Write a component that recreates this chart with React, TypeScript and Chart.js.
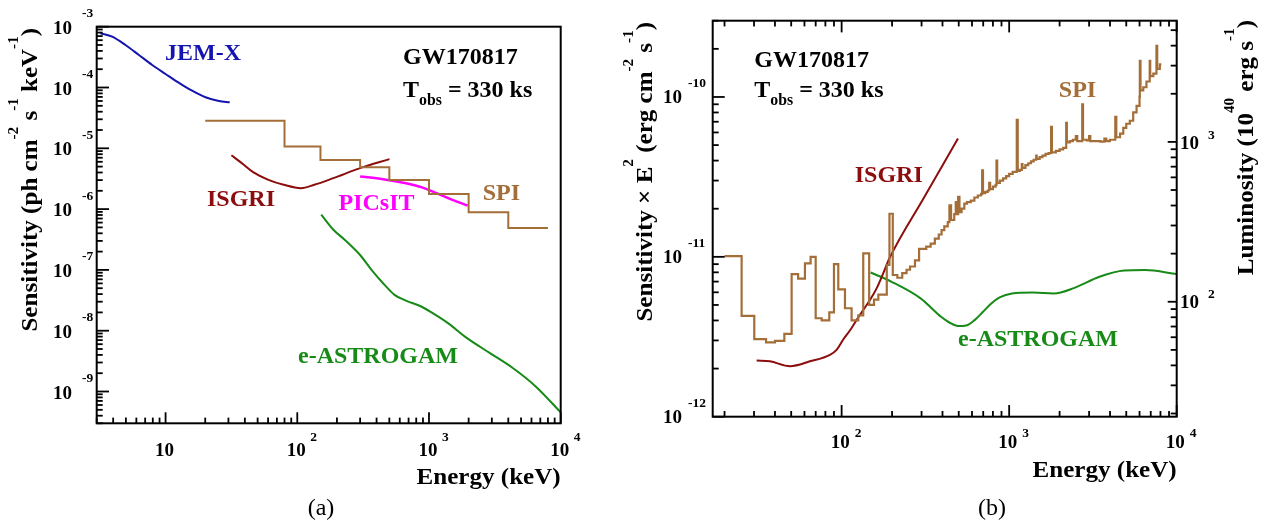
import React, { useEffect, useRef } from 'react';
import { Chart, registerables } from 'chart.js';

Chart.register(...registerables);

// ---------------- Panel (a): sensitivity (ph cm^-2 s^-1 keV^-1) ----------------
const jemxEnergy = [3.2, 3.93, 4.96, 6.27, 7.91, 10.0, 12.6, 15.9, 20.1, 25.4, 30.7];
const jemxSens = [7.8e-4, 6.85e-4, 5.0e-4, 3.43e-4, 2.35e-4, 1.67e-4, 1.2e-4, 8.85e-5, 6.9e-5, 6.0e-5, 5.7e-5];

const spiAEnergy = [20, 80, 150, 300, 500, 1000, 2000, 4000, 8000];
const spiASens = [2.85e-5, 1.07e-5, 6.45e-6, 4.9e-6, 3.0e-6, 1.78e-6, 8.9e-7, 4.9e-7, 4.9e-7];

const isgriAEnergy = [31.6, 37.9, 46.2, 60.4, 78.9, 106.6, 134.6, 188, 300, 501];
const isgriASens = [7.7e-6, 5.7e-6, 4.06e-6, 3.03e-6, 2.51e-6, 2.21e-6, 2.51e-6, 3.23e-6, 4.72e-6, 6.64e-6];

const picsitEnergy = [300, 448, 668, 873, 1140, 1489, 1969];
const picsitSens = [3.44e-6, 3.11e-6, 2.67e-6, 2.3e-6, 1.83e-6, 1.43e-6, 1.14e-6];

const astroAEnergy = [152, 188, 230, 300, 366, 448, 547, 668, 873, 1067, 1393, 1945, 2903, 4328, 6458, 10000];
const astroASens = [8.1e-7, 4.58e-7, 3.11e-7, 1.76e-7, 1.0e-7, 6.04e-8, 3.89e-8, 3.13e-8, 2.5e-8, 1.94e-8, 1.33e-8, 7.55e-9, 4.28e-9, 2.43e-9, 1.21e-9, 4.54e-10];

const aXRange = [3, 1e4];
const aYRange = [3e-10, 1e-3];
const aXTickValues = [10, 100, 1000, 10000];
const aXTickExp = ['', '2', '3', '4'];
const aYTickValues = [1e-3, 1e-4, 1e-5, 1e-6, 1e-7, 1e-8, 1e-9];
const aYTickExp = ['-3', '-4', '-5', '-6', '-7', '-8', '-9'];

// ---------------- Panel (b): sensitivity x E^2 (erg cm^-2 s^-1) ----------------
const spiBEnergy = [
  20, 25.3, 30.1, 35.4, 40, 45.5, 50.3, 55, 60.4, 65.3,
  70, 76, 84.4, 90, 95.5, 104.7, 114.7, 125.7, 134.6, 146,
  156, 165.6, 186, 193, 202, 215, 230, 244, 256, 274,
  290, 320, 340, 360, 380, 395, 410, 430, 440, 450,
  470, 480, 490, 496, 505, 520, 540, 560, 590, 620,
  650, 680, 690, 698, 720, 745, 760, 770, 800, 830,
  840, 848, 880, 920, 960, 1000, 1050, 1110, 1125, 1160,
  1190, 1200, 1250, 1300, 1350, 1400, 1450, 1460, 1520, 1580,
  1650, 1720, 1780, 1800, 1900, 2000, 2100, 2190, 2210, 2300,
  2400, 2500, 2550, 2730, 2760, 2900, 3000, 3050, 3300, 3500,
  3700, 3800, 3990, 4300, 4360, 4590, 4800, 5000, 5250, 5500,
  5760, 6000, 6025, 6080, 6315, 6600, 6900, 6950, 7250, 7570,
  7650, 7930, 8100,
];
const spiBSens = [
  1.01e-11, 4.27e-12, 3.06e-12, 2.92e-12, 2.98e-12, 3.3e-12, 7.8e-12, 7.3e-12, 9.1e-12, 1.0e-11,
  4.13e-12, 4.0e-12, 4.5e-12, 9.0e-12, 6.25e-12, 4.77e-12, 4.0e-12, 4.3e-12, 1.05e-11, 5.0e-12,
  5.4e-12, 5.8e-12, 8.9e-12, 1.86e-11, 7.7e-12, 7.4e-12, 7.9e-12, 8.3e-12, 8.7e-12, 9.5e-12,
  1.12e-11, 1.16e-11, 1.21e-11, 1.3e-11, 1.38e-11, 1.47e-11, 1.55e-11, 1.65e-11, 2.1e-11, 1.7e-11,
  1.85e-11, 2.2e-11, 1.85e-11, 2.37e-11, 1.9e-11, 2.0e-11, 2.15e-11, 2.2e-11, 2.25e-11, 2.35e-11,
  2.42e-11, 2.48e-11, 3.47e-11, 2.5e-11, 2.55e-11, 2.6e-11, 2.9e-11, 2.65e-11, 2.75e-11, 2.82e-11,
  4.0e-11, 2.9e-11, 3.0e-11, 3.1e-11, 3.2e-11, 3.3e-11, 3.4e-11, 7.2e-11, 3.45e-11, 3.5e-11,
  3.8e-11, 3.6e-11, 3.75e-11, 3.85e-11, 3.95e-11, 4.05e-11, 4.3e-11, 4.1e-11, 4.2e-11, 4.3e-11,
  4.4e-11, 4.45e-11, 6.5e-11, 4.5e-11, 4.6e-11, 4.7e-11, 4.8e-11, 6.9e-11, 5.2e-11, 5.3e-11,
  5.4e-11, 5.7e-11, 5.3e-11, 9.0e-11, 5.4e-11, 5.35e-11, 5.7e-11, 5.3e-11, 5.3e-11, 5.25e-11,
  5.5e-11, 5.3e-11, 5.4e-11, 7.5e-11, 5.6e-11, 5.9e-11, 6.4e-11, 6.8e-11, 7.1e-11, 8.0e-11,
  8.8e-11, 1.0e-10, 1.68e-10, 1.1e-10, 1.15e-10, 1.25e-10, 1.68e-10, 1.35e-10, 1.4e-10, 2.09e-10,
  1.5e-10, 1.6e-10, 1.6e-10,
];

const isgriBEnergy = [31.1, 37.3, 49.2, 64.7, 85.2, 93.3, 102, 112, 123, 134.6, 147.6, 161.8, 177, 193, 308, 495];
const isgriBSens = [2.25e-12, 2.22e-12, 2.07e-12, 2.22e-12, 2.44e-12, 2.62e-12, 3.03e-12, 3.46e-12, 4.04e-12, 4.65e-12, 5.37e-12, 6.35e-12, 7.87e-12, 9.8e-12, 2.32e-11, 5.49e-11];

const astroBEnergy = [149, 199, 296, 394, 442, 495, 555, 622, 698, 782, 877, 1040, 1383, 1844, 2455, 3457, 4868, 6475, 10000];
const astroBSens = [7.98e-12, 6.98e-12, 5.5e-12, 4.2e-12, 3.87e-12, 3.69e-12, 3.72e-12, 4.02e-12, 4.53e-12, 5.1e-12, 5.57e-12, 5.9e-12, 5.98e-12, 5.9e-12, 6.4e-12, 7.5e-12, 8.2e-12, 8.26e-12, 7.8e-12];

const bXRange = [17, 1e4];
const bYRange = [1e-12, 3e-10];
const lumFactor = 1.91e13; // luminosity (1e40 erg/s) per unit flux
const bXTickValues = [100, 1000, 10000];
const bXTickExp = ['2', '3', '4'];
const bYTickValues = [1e-10, 1e-11, 1e-12];
const bYTickExp = ['-10', '-11', '-12'];
const bY2TickValues = [100, 1000];
const bY2TickExp = ['2', '3'];

// ---------------- colours ----------------
const C_JEMX = '#1414b0';
const C_SPI = '#a46e39';
const C_ISGRI = '#8c0d0d';
const C_PICSIT = '#ff00ff';
const C_ASTRO = '#178a17';

const FONT = "'Liberation Serif', 'Times New Roman', serif";

type Seg = { t: string; k?: 'sup' | 'sub' };
interface TOpt {
  size: number;
  color?: string;
  align?: 'left' | 'center' | 'right';
  rot?: boolean;
  stretch?: number;
  bold?: boolean;
  supScale?: number;
  supRaise?: number;
  subScale?: number;
  subLower?: number;
}

function drawRich(ctx: CanvasRenderingContext2D, segs: Seg[], x: number, y: number, o: TOpt) {
  const size = o.size;
  const stretch = o.stretch ?? 1;
  const weight = o.bold === false ? 'normal' : 'bold';
  const supScale = o.supScale ?? 0.62;
  const supRaise = o.supRaise ?? 0.8;
  const subScale = o.subScale ?? 0.66;
  const subLower = o.subLower ?? 0.34;
  const parts = segs.map((s) => {
    const fs = s.k ? size * (s.k === 'sup' ? supScale : subScale) : size;
    ctx.font = `${weight} ${fs}px ${FONT}`;
    return { ...s, fs, w: ctx.measureText(s.t).width };
  });
  const W = parts.reduce((a, p) => a + p.w, 0) * stretch;
  const off = o.align === 'center' ? -W / 2 : o.align === 'right' ? -W : 0;
  ctx.save();
  ctx.translate(x, y);
  if (o.rot) ctx.rotate(-Math.PI / 2);
  ctx.translate(off, 0);
  ctx.scale(stretch, 1);
  ctx.fillStyle = o.color ?? '#000';
  ctx.textBaseline = 'alphabetic';
  ctx.textAlign = 'left';
  let cx = 0;
  for (const p of parts) {
    ctx.font = `${weight} ${p.fs}px ${FONT}`;
    const dy = p.k === 'sup' ? -supRaise * size : p.k === 'sub' ? subLower * size : 0;
    ctx.fillText(p.t, cx, dy);
    cx += p.w;
  }
  ctx.restore();
}

function logTicks(min: number, max: number) {
  const out: { v: number; major: boolean }[] = [];
  for (let d = Math.floor(Math.log10(min)); d <= Math.ceil(Math.log10(max)); d++) {
    for (let m = 1; m <= 9; m++) {
      const v = m * Math.pow(10, d);
      if (v >= min * (1 - 1e-9) && v <= max * (1 + 1e-9)) out.push({ v, major: m === 1 });
    }
  }
  return out;
}

function drawXTicks(ctx: CanvasRenderingContext2D, scale: any, area: any, edge: 'bottom' | 'top', majorLen: number, minorLen: number) {
  for (const t of logTicks(scale.min, scale.max)) {
    const px = scale.getPixelForValue(t.v);
    const len = t.major ? majorLen : minorLen;
    ctx.beginPath();
    if (edge === 'bottom') {
      ctx.moveTo(px, area.bottom);
      ctx.lineTo(px, area.bottom - len);
    } else {
      ctx.moveTo(px, area.top);
      ctx.lineTo(px, area.top + len);
    }
    ctx.stroke();
  }
}

function drawYTicks(ctx: CanvasRenderingContext2D, scale: any, area: any, edge: 'left' | 'right', majorLen: number, minorLen: number) {
  for (const t of logTicks(scale.min, scale.max)) {
    const py = scale.getPixelForValue(t.v);
    const len = t.major ? majorLen : minorLen;
    ctx.beginPath();
    if (edge === 'left') {
      ctx.moveTo(area.left, py);
      ctx.lineTo(area.left + len, py);
    } else {
      ctx.moveTo(area.right, py);
      ctx.lineTo(area.right - len, py);
    }
    ctx.stroke();
  }
}

const pts = (xs: number[], ys: number[]) => xs.map((x, i) => ({ x, y: ys[i] }));

function smoothLine(xs: number[], ys: number[], color: string, width = 2) {
  return {
    data: pts(xs, ys),
    borderColor: color,
    borderWidth: width,
    pointRadius: 0,
    fill: false,
    cubicInterpolationMode: 'monotone',
  };
}

// histogram: each value holds from its energy to the next energy (horizontal first)
function stepLine(xs: number[], ys: number[], color: string, width = 2) {
  return {
    data: pts(xs, ys),
    borderColor: color,
    borderWidth: width,
    pointRadius: 0,
    fill: false,
    stepped: 'before',
  };
}

const TITLE = { size: 23, stretch: 1.09, supScale: 0.6, supRaise: 0.82 };

const panelAPlugin = {
  id: 'panelA',
  afterDraw(chart: any) {
    const ctx: CanvasRenderingContext2D = chart.ctx;
    const a = chart.chartArea;
    const xs = chart.scales.x;
    const ys = chart.scales.y;
    ctx.save();
    ctx.strokeStyle = '#000';
    ctx.lineWidth = 1.8;
    drawXTicks(ctx, xs, a, 'bottom', 11, 5.7);
    drawYTicks(ctx, ys, a, 'left', 12.3, 6);
    ctx.lineWidth = 2;
    ctx.strokeRect(a.left, a.top, a.right - a.left, a.bottom - a.top);

    aXTickValues.forEach((v, i) => {
      const px = xs.getPixelForValue(v);
      drawRich(ctx, [{ t: '10' }], px - 1, a.bottom + 32.7, { size: 19, align: 'center' });
      if (aXTickExp[i]) drawRich(ctx, [{ t: aXTickExp[i] }], px + 13, a.bottom + 17.4, { size: 13.5 });
    });
    aYTickValues.forEach((v, i) => {
      const py = ys.getPixelForValue(v);
      drawRich(ctx, [{ t: '10' }], a.left - 24.7, py + 7, { size: 19, align: 'right' });
      drawRich(ctx, [{ t: aYTickExp[i] }], a.left - 14.7, py - 9.5, { size: 13.5 });
    });

    drawRich(ctx, [{ t: 'Energy (keV)' }], a.right, 484, { ...TITLE, align: 'right' });
    drawRich(
      ctx,
      [
        { t: 'Sensitivity (ph cm' }, { t: '-2', k: 'sup' }, { t: ' s' }, { t: '-1', k: 'sup' },
        { t: ' keV' }, { t: '-1', k: 'sup' }, { t: ')' },
      ],
      36.7, 28, { ...TITLE, align: 'right', rot: true },
    );

    drawRich(ctx, [{ t: 'JEM-X' }], 165, 60, { size: 24, color: C_JEMX });
    drawRich(ctx, [{ t: 'GW170817' }], 403, 64, { size: 24 });
    drawRich(ctx, [{ t: 'T' }, { t: 'obs', k: 'sub' }, { t: ' = 330 ks' }], 403, 96.7, { size: 24 });
    drawRich(ctx, [{ t: 'ISGRI' }], 207, 205.5, { size: 24, color: C_ISGRI });
    drawRich(ctx, [{ t: 'PICsIT' }], 338.5, 210, { size: 24, color: C_PICSIT });
    drawRich(ctx, [{ t: 'SPI' }], 482.7, 200, { size: 24, color: C_SPI });
    drawRich(ctx, [{ t: 'e-ASTROGAM' }], 298, 363.3, { size: 24, color: C_ASTRO });
    drawRich(ctx, [{ t: '(a)' }], 321, 515, { size: 24, align: 'center', bold: false });
    ctx.restore();
  },
};

// canvas (b) starts at page x = 600
const panelBPlugin = {
  id: 'panelB',
  afterDraw(chart: any) {
    const ctx: CanvasRenderingContext2D = chart.ctx;
    const a = chart.chartArea;
    const xs = chart.scales.x;
    const ys = chart.scales.y;
    const y2 = chart.scales.y2;
    ctx.save();
    ctx.strokeStyle = '#000';
    ctx.lineWidth = 1.8;
    drawXTicks(ctx, xs, a, 'bottom', 11.7, 5.7);
    drawXTicks(ctx, xs, a, 'top', 11.7, 5.7);
    drawYTicks(ctx, ys, a, 'left', 12, 6);
    drawYTicks(ctx, y2, a, 'right', 9, 6);
    ctx.lineWidth = 2;
    ctx.strokeRect(a.left, a.top, a.right - a.left, a.bottom - a.top);

    bXTickValues.forEach((v, i) => {
      const px = xs.getPixelForValue(v);
      drawRich(ctx, [{ t: '10' }], px - 1.5, a.bottom + 31.6, { size: 19, align: 'center' });
      drawRich(ctx, [{ t: bXTickExp[i] }], px + 13, a.bottom + 20, { size: 13.5 });
    });
    bYTickValues.forEach((v, i) => {
      const py = ys.getPixelForValue(v);
      drawRich(ctx, [{ t: '10' }], a.left - 30.7, py + 6.5, { size: 19, align: 'right' });
      drawRich(ctx, [{ t: bYTickExp[i] }], a.left - 24.7, py - 9.5, { size: 13.5 });
    });
    bY2TickValues.forEach((v, i) => {
      const py = y2.getPixelForValue(v);
      drawRich(ctx, [{ t: '10' }], a.right + 3.3, py + 6.7, { size: 19 });
      drawRich(ctx, [{ t: bY2TickExp[i] }], a.right + 31.3, py - 3.4, { size: 13.5 });
    });

    drawRich(ctx, [{ t: 'Energy (keV)' }], a.right, 476.7, { ...TITLE, align: 'right' });
    drawRich(
      ctx,
      [
        { t: 'Sensitivity \u00d7 E' }, { t: '2', k: 'sup' }, { t: ' (erg cm' }, { t: '-2', k: 'sup' },
        { t: ' s' }, { t: '-1', k: 'sup' }, { t: ')' },
      ],
      52, 22, { ...TITLE, align: 'right', rot: true },
    );
    drawRich(
      ctx,
      [
        { t: 'Luminosity (10' }, { t: '40', k: 'sup' }, { t: ' erg s' }, { t: '-1', k: 'sup' }, { t: ')' },
      ],
      653, 20, { ...TITLE, align: 'right', rot: true },
    );

    drawRich(ctx, [{ t: 'GW170817' }], 154.3, 66.7, { size: 24 });
    drawRich(ctx, [{ t: 'T' }, { t: 'obs', k: 'sub' }, { t: ' = 330 ks' }], 154.3, 97.3, { size: 24 });
    drawRich(ctx, [{ t: 'SPI' }], 458.8, 97.3, { size: 24, color: C_SPI });
    drawRich(ctx, [{ t: 'ISGRI' }], 254.7, 181.7, { size: 24, color: C_ISGRI });
    drawRich(ctx, [{ t: 'e-ASTROGAM' }], 358, 346, { size: 24, color: C_ASTRO });
    drawRich(ctx, [{ t: '(b)' }], 392, 515, { size: 24, align: 'center', bold: false });
    ctx.restore();
  },
};

function configA(): any {
  return {
    type: 'line',
    data: {
      datasets: [
        smoothLine(jemxEnergy, jemxSens, C_JEMX),
        stepLine(spiAEnergy, spiASens, C_SPI),
        smoothLine(isgriAEnergy, isgriASens, C_ISGRI),
        smoothLine(picsitEnergy, picsitSens, C_PICSIT, 2.5),
        smoothLine(astroAEnergy, astroASens, C_ASTRO),
      ],
    },
    options: {
      responsive: false,
      animation: false,
      events: [],
      layout: { padding: { left: 96.7, right: 39.3, top: 26.7, bottom: 98.7 } },
      plugins: { legend: { display: false }, tooltip: { enabled: false }, title: { display: false } },
      scales: {
        x: { type: 'logarithmic', min: aXRange[0], max: aXRange[1], display: false },
        y: { type: 'logarithmic', min: aYRange[0], max: aYRange[1], display: false },
      },
    },
    plugins: [panelAPlugin],
  };
}

function configB(): any {
  return {
    type: 'line',
    data: {
      datasets: [
        stepLine(spiBEnergy, spiBSens, C_SPI, 2.2),
        smoothLine(isgriBEnergy, isgriBSens, C_ISGRI),
        smoothLine(astroBEnergy, astroBSens, C_ASTRO),
      ],
    },
    options: {
      responsive: false,
      animation: false,
      events: [],
      layout: { padding: { left: 112.7, right: 91.3, top: 20.7, bottom: 105.3 } },
      plugins: { legend: { display: false }, tooltip: { enabled: false }, title: { display: false } },
      scales: {
        x: { type: 'logarithmic', min: bXRange[0], max: bXRange[1], display: false },
        y: { type: 'logarithmic', min: bYRange[0], max: bYRange[1], display: false },
        y2: {
          type: 'logarithmic',
          position: 'right',
          min: bYRange[0] * lumFactor,
          max: bYRange[1] * lumFactor,
          display: false,
        },
      },
    },
    plugins: [panelBPlugin],
  };
}

function Panel({ make, left, width }: { make: () => any; left: number; width: number }) {
  const ref = useRef<HTMLCanvasElement>(null);
  useEffect(() => {
    const chart = new Chart(ref.current as HTMLCanvasElement, make());
    return () => chart.destroy();
  }, []);
  return (
    <canvas
      ref={ref}
      width={width}
      height={522}
      style={{ position: 'absolute', left, top: 0, width, height: 522 }}
    />
  );
}

export default function App() {
  return (
    <div style={{ position: 'fixed', left: 0, top: 0, width: 1268, height: 522, background: '#fff', overflow: 'hidden' }}>
      <Panel make={configA} left={0} width={600} />
      <Panel make={configB} left={600} width={668} />
    </div>
  );
}
